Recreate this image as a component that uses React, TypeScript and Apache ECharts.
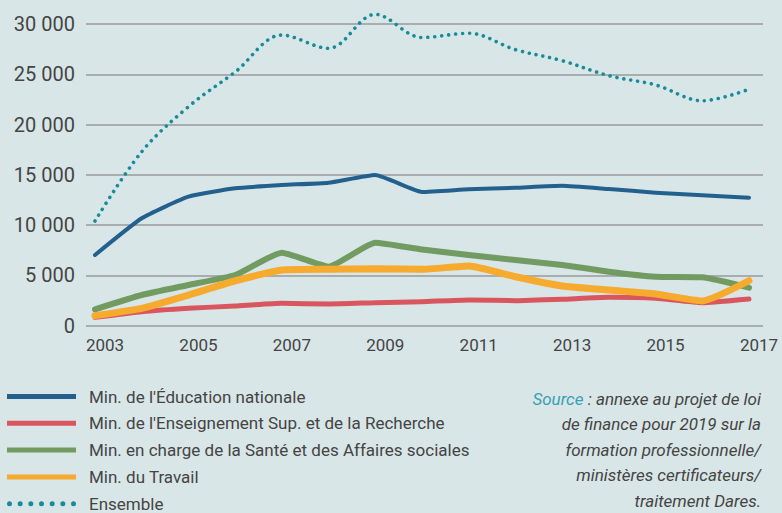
import React, { useEffect, useRef } from "react";
import * as echarts from "echarts";

const years = [2003, 2004, 2005, 2006, 2007, 2008, 2009, 2010, 2011, 2012, 2013, 2014, 2015, 2016, 2017];
const xTickYears = [2003, 2005, 2007, 2009, 2011, 2013, 2015, 2017];

const seriesNames = [
  "Min. de l'Éducation nationale",
  "Min. de l'Enseignement Sup. et de la Recherche",
  "Min. en charge de la Santé et des Affaires sociales",
  "Min. du Travail",
  "Ensemble",
];

const education = [7030, 10680, 12830, 13660, 13990, 14220, 14990, 13300, 13560, 13720, 13920, 13590, 13230, 12970, 12730];
const enseignementSup = [830, 1390, 1730, 1960, 2230, 2160, 2290, 2390, 2560, 2490, 2630, 2820, 2720, 2290, 2660];
const sante = [1630, 3050, 4050, 5040, 7260, 5870, 8250, 7570, 7030, 6530, 6040, 5370, 4870, 4810, 3780];
const travail = [1000, 1730, 3050, 4470, 5540, 5610, 5670, 5610, 5940, 4870, 3950, 3550, 3150, 2460, 4470];
const ensemble = [10410, 17300, 21780, 25230, 28900, 27580, 30960, 28660, 29080, 27450, 26350, 24860, 23940, 22370, 23510];

const colors = ["#22618e", "#d9565f", "#729b61", "#f6aa2e", "#178c99"];
const widths = [4, 5, 6, 7, 3.6];

const sourceLines = [
  "de finance pour 2019 sur la",
  "formation professionnelle/",
  "ministères certificateurs/",
  "traitement Dares.",
];

const FONT = 'Roboto, "Noto Sans", sans-serif';
const BG = "#d9e6e7";
const TEXT = "#444444";

function dotsIcon(): string {
  let d = "";
  for (let i = 0; i < 7; i++) {
    const cx = 2.5 + (i * 64) / 6;
    d += `M${(cx - 2.5).toFixed(2)},2.5a2.5,2.5 0 1,0 5,0a2.5,2.5 0 1,0 -5,0Z`;
  }
  return "path://" + d;
}

export default function App() {
  const ref = useRef<HTMLDivElement>(null);
  useEffect(() => {
    if (!ref.current) return;
    const chart = echarts.init(ref.current, null, { renderer: "svg" });
    const allData = [education, enseignementSup, sante, travail, ensemble];
    const series = allData.map((vals, i) => ({
      name: seriesNames[i],
      type: "line",
      data: vals.map((v, k) => [years[k], v]),
      symbol: "none",
      clip: false,
      smooth: i === 4 ? 0.35 : 0.15,
      color: colors[i],
      itemStyle: { color: colors[i] },
      lineStyle:
        i === 4
          ? { color: colors[i], width: widths[i], type: [0.01, 7], cap: "round" }
          : { color: colors[i], width: widths[i], cap: "round", join: "round" },
      z: 2 + i,
    }));
    const fmt = (v: number) => String(v).replace(/\B(?=(\d{3})+(?!\d))/g, " ");
    const richT = { fill: TEXT, fontSize: 17, fontStyle: "italic", fontFamily: FONT, lineHeight: 25.5, align: "right" };
    const richS = { fill: "#3a9fb1", fontSize: 17, fontStyle: "italic", fontFamily: FONT, lineHeight: 25.5, align: "right" };
    const sourceText =
      "{s|Source}{t| : annexe au projet de loi}\n" + sourceLines.map((l) => `{t|${l}}`).join("\n");
    chart.setOption({
      animation: false,
      backgroundColor: BG,
      textStyle: { fontFamily: FONT },
      grid: { left: 86, right: 19, top: 24, bottom: 187.3 },
      xAxis: {
        type: "value",
        min: 2002.807,
        max: 2017.3,
        splitLine: { show: false },
        axisLine: { show: false },
        axisTick: { show: false },
        axisLabel: {
          customValues: xTickYears,
          formatter: (v: number) => String(v),
          fontSize: 17,
          color: TEXT,
          fontFamily: FONT,
          margin: 11,
          padding: [0, 0, 0, 20],
        },
      },
      yAxis: {
        type: "value",
        min: 0,
        max: 30000,
        interval: 5000,
        axisLine: { show: false },
        axisTick: { show: false },
        splitLine: { show: true, lineStyle: { color: "#9a9a9a", width: 1.5 } },
        axisLabel: { formatter: fmt, fontSize: 20, color: TEXT, fontFamily: FONT, margin: 11 },
      },
      legend: {
        type: "plain",
        orient: "vertical",
        left: 7,
        top: 388,
        height: 200,
        padding: 0,
        itemWidth: 69,
        itemHeight: 5,
        itemGap: 9.8,
        selectedMode: false,
        itemStyle: { borderWidth: 0 },
        textStyle: { fontSize: 17, color: TEXT, fontFamily: FONT, padding: [0, 0, 0, 8], lineHeight: 17 },
        data: seriesNames.map((n, i) => ({ name: n, icon: i === 4 ? dotsIcon() : "rect" })),
      },
      graphic: [
        {
          type: "text",
          right: 21,
          top: 386,
          style: {
            text: sourceText,
            align: "right",
            verticalAlign: "top",
            fontSize: 17,
            fontStyle: "italic",
            fontFamily: FONT,
            fill: TEXT,
            lineHeight: 25.5,
            rich: { s: richS, t: richT },
          },
        },
      ],
      series,
    });
    return () => chart.dispose();
  }, []);
  return (
    <div
      ref={ref}
      style={{ position: "fixed", left: 0, top: 0, width: 782, height: 513, background: BG }}
    />
  );
}
